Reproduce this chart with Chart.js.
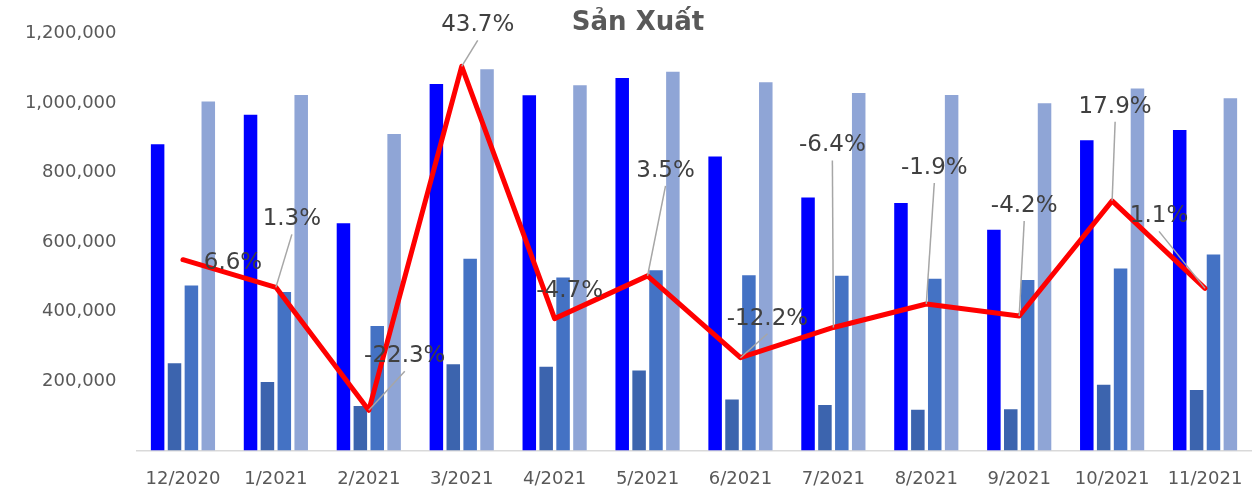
<!DOCTYPE html>
<html>
<head>
<meta charset="utf-8">
<script src="https://cdn.jsdelivr.net/npm/chart.js@4.4.1/dist/chart.umd.min.js"></script>
<style>
html,body{margin:0;padding:0;background:#ffffff;}
canvas{display:block;}
</style>
</head>
<body>
<canvas id="c" width="1253" height="492"></canvas>
<script>
// ---- Data ----
const categories = ['12/2020','1/2021','2/2021','3/2021','4/2021','5/2021','6/2021','7/2021','8/2021','9/2021','10/2021','11/2021'];
const series1 = [881000, 966000, 654000, 1055000, 1022000, 1072000, 846000, 728000, 712000, 635000, 893000, 922000];
const series2 = [251000, 197000, 128000, 248000, 241000, 230000, 147000, 131000, 117000, 119000, 189000, 174000];
const series3 = [475000, 456000, 358000, 552000, 498000, 519000, 504000, 503000, 494000, 491000, 524000, 564000];
const series4 = [1004000, 1023000, 911000, 1097000, 1051000, 1090000, 1060000, 1029000, 1023000, 999000, 1042000, 1014000];
const growthPct = [6.6, 1.3, -22.3, 43.7, -4.7, 3.5, -12.2, -6.4, -1.9, -4.2, 17.9, 1.1];
const yTickValues = [0, 200000, 400000, 600000, 800000, 1000000, 1200000];
const titleText = 'Sản Xuất';

// ---- Label placement (offsets of each % label from its point, and whether a leader line is drawn) ----
const labelOffsets = [[50,3],[16,-68],[36,-54],[16,-41],[15,-28],[18,-105],[27,-39],[-1,-182],[8,-136],[5,-110],[3,-94],[-46,-72]];
const labelLeader = [false,true,true,true,false,true,true,true,true,true,true,true];

const FONT = '"DejaVu Sans", Verdana, sans-serif';

const titlePlugin = {
  id: 'titleText',
  afterDraw(chart) {
    const ctx = chart.ctx;
    ctx.save();
    ctx.font = 'bold 26px ' + FONT;
    ctx.fillStyle = '#595959';
    ctx.textAlign = 'center';
    ctx.textBaseline = 'middle';
    ctx.fillText(titleText, 638, 23);
    ctx.restore();
  }
};

const pctLabels = {
  id: 'pctLabels',
  afterDatasetsDraw(chart) {
    const meta = chart.getDatasetMeta(0);
    const ctx = chart.ctx;
    ctx.save();
    meta.data.forEach((pt, i) => {
      const [dx, dy] = labelOffsets[i];
      const lx = pt.x + dx, ly = pt.y + dy;
      if (labelLeader[i]) {
        ctx.beginPath();
        ctx.strokeStyle = '#A6A6A6';
        ctx.lineWidth = 1.5;
        ctx.moveTo(lx + (dx < -20 ? 0 : 0), ly + 15);
        ctx.lineTo(pt.x, pt.y);
        ctx.stroke();
      }
      ctx.font = '23px ' + FONT;
      ctx.fillStyle = '#404040';
      ctx.textAlign = 'center';
      ctx.textBaseline = 'middle';
      ctx.fillText(growthPct[i].toFixed(1) + '%', lx, ly);
    });
    ctx.restore();
  }
};

new Chart(document.getElementById('c'), {
  data: {
    labels: categories,
    datasets: [
      { type: 'line', label: 'Tăng trưởng', data: growthPct, yAxisID: 'y1', order: 0,
        borderColor: '#FF0000', borderWidth: 5, pointRadius: 0, pointHoverRadius: 0,
        borderJoinStyle: 'round', borderCapStyle: 'round', tension: 0, fill: false },
      { type: 'bar', label: 'Series 1', data: series1, yAxisID: 'y', order: 1, backgroundColor: '#0000FF',
        borderColor: 'rgba(255,255,255,0.5)', borderWidth: 0 },
      { type: 'bar', label: 'Series 2', data: series2, yAxisID: 'y', order: 1, backgroundColor: '#3C64AE',
        borderWidth: 0 },
      { type: 'bar', label: 'Series 3', data: series3, yAxisID: 'y', order: 1, backgroundColor: '#4472C4',
        borderWidth: 0 },
      { type: 'bar', label: 'Series 4', data: series4, yAxisID: 'y', order: 1, backgroundColor: '#8FA5D6',
        borderWidth: 0 }
    ]
  },
  options: {
    responsive: false,
    animation: false,
    events: [],
    layout: { padding: { top: 33.5, right: 1.5, left: 0, bottom: 0 } },
    datasets: { bar: { categoryPercentage: 0.727, barPercentage: 0.8 } },
    plugins: { legend: { display: false }, tooltip: { enabled: false }, title: { display: false } },
    scales: {
      x: {
        offset: true,
        grid: { display: true, drawOnChartArea: false, drawTicks: false },
        border: { display: true, color: '#D9D9D9', width: 1.5 },
        ticks: { color: '#595959', font: { family: FONT, size: 18 }, padding: 18, maxRotation: 0, autoSkip: false },
        afterFit(scale) { scale.height = 41.5; scale.paddingLeft = 0; scale.paddingRight = 0; }
      },
      y: {
        position: 'left',
        min: 0, max: 1200000,
        afterBuildTicks(scale) { scale.ticks = yTickValues.map(v => ({ value: v })); },
        grid: { display: false, drawTicks: false },
        border: { display: false },
        ticks: {
          color: '#595959', font: { family: FONT, size: 18 }, padding: 20,
          callback: (v) => v === 0 ? '' : v.toLocaleString('en-US')
        },
        afterFit(scale) { scale.width = 136.5; scale.paddingTop = 0; scale.paddingBottom = 0; }
      },
      y1: {
        display: false,
        position: 'right',
        min: -30, max: 50
      }
    }
  },
  plugins: [pctLabels, titlePlugin]
});
</script>
</body>
</html>
